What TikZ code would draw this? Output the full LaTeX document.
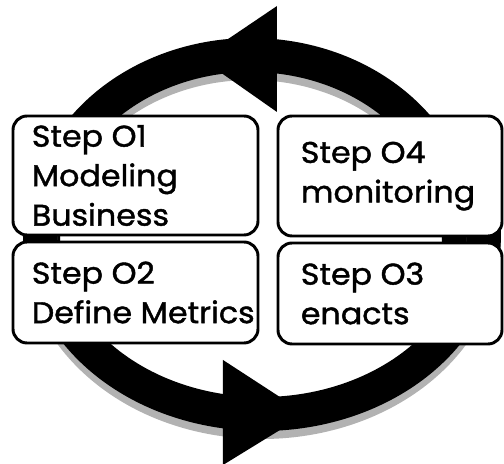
\documentclass[tikz,border=0pt]{standalone}
\usepackage{fontspec}
\setmainfont{Poppins}[FakeBold=1.4, FakeStretch=1.06]
\usetikzlibrary{positioning}

\tikzset{
  stepbox/.style={draw=black, fill=white, line width=2.1pt, rounded corners=10pt, inner sep=0pt},
  steptext/.style={align=left, inner sep=0pt, font=\fontsize{21.3pt}{28.1pt}\selectfont},
  band/.style={line width=0.85cm, black},
  bandshade/.style={line width=0.85cm, black!30},
}

\begin{document}
\begin{tikzpicture}
\useasboundingbox (0,0) rectangle (12.6,11.6);
% centres of the two arcs
\coordinate (ctop) at (6.275,5.75);
\coordinate (cbot) at (6.55,5.75);

% upper arc, running right to left
\draw[bandshade] ([yshift=-0.2cm]ctop) ++(-8:5.2 and 4.475) arc[start angle=-8, end angle=188, x radius=5.2, y radius=4.475];
\draw[band] (ctop) ++(-8:5.2 and 4.475) arc[start angle=-8, end angle=188, x radius=5.2, y radius=4.475];
\fill (6.925,11.45) -- (6.925,8.8) -- (5.0,10.15) -- cycle;

% lower arc, running left to right
\draw[bandshade] ([yshift=-0.2cm]cbot) ++(172:5.55 and 4.5) arc[start angle=172, end angle=368, x radius=5.55, y radius=4.5];
\draw[band] (cbot) ++(172:5.55 and 4.5) arc[start angle=172, end angle=368, x radius=5.55, y radius=4.5];
\fill (5.575,2.6) -- (5.575,-0.025) -- (7.65,1.25) -- cycle;

% the four steps
\node[stepbox, minimum width=6.125cm, minimum height=2.975cm] (box1) at (3.3875,7.2125) {};
\node[stepbox, minimum width=6.125cm, minimum height=2.525cm] (box2) at (3.3875,4.2875) {};
\node[stepbox, minimum width=5.6cm, minimum height=3.0cm] (box4) at (9.75,7.2) {};
\node[stepbox, minimum width=5.6cm, minimum height=2.525cm] (box3) at (9.75,4.2625) {};

\node[steptext, right=0.5cm of box1.west] (txt1) {Step O1\\Modeling\\Business};
\node[steptext, right=0.5cm of box2.west] (txt2) {Step O2\\Define Metrics};
\node[steptext, right=0.6cm of box4.west] (txt4) {Step O4\\monitoring};
\node[steptext, right=0.6cm of box3.west] (txt3) {Step O3\\enacts};
\end{tikzpicture}
\end{document}
